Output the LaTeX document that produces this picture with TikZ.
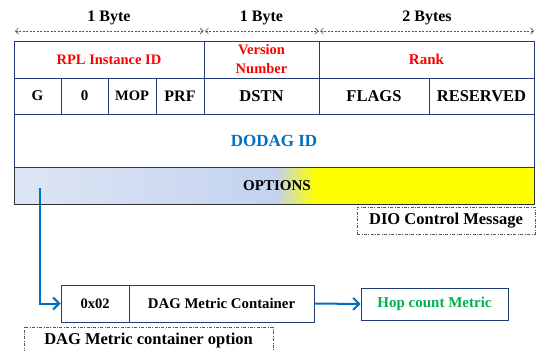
\documentclass[tikz,border=0pt]{standalone}
\usepackage{fontspec}
\setmainfont{Liberation Serif}
\usetikzlibrary{arrows.meta}
\definecolor{navy}{HTML}{1F3B73}
\definecolor{rplred}{HTML}{FF0000}
\definecolor{dodblue}{HTML}{0070C0}
\definecolor{hopgreen}{HTML}{00B050}
\definecolor{optA}{HTML}{DEE6F5}
\definecolor{optB}{HTML}{C3D2EE}
\definecolor{optY}{HTML}{FFFF00}
\definecolor{dashgray}{HTML}{555555}
\tikzset{
  cell/.style={draw=navy, line width=0.9pt, inner sep=0pt, align=center, font=\bfseries},
  fs/.style={font=\fontsize{#1}{#1}\selectfont\bfseries},
  lblbox/.style={draw=dashgray, line width=0.5pt, dash pattern=on 3pt off 1.5pt on 0.8pt off 1.5pt, inner sep=0pt},
  bytearrow/.style={draw=dashgray, line width=0.6pt, dash pattern=on 2pt off 1.5pt, {Straight Barb[length=3pt,width=6pt]}-{Straight Barb[length=3pt,width=6pt]}},
  bluearrow/.style={draw=dodblue, line width=2pt, -{Straight Barb[length=6pt,width=12pt]}}
}
\begin{document}
\begin{tikzpicture}[x=1pt,y=-1pt]
\useasboundingbox (0,0) rectangle (536,351);
\clip (0,0) rectangle (536,351);
\fill[white] (0,0) rectangle (536,351);
% byte arrows
\coordinate (a1) at (15,31); \coordinate (a2) at (203.5,31);
\coordinate (a3) at (205,31); \coordinate (a4) at (318.5,31);
\coordinate (a5) at (320,31); \coordinate (a6) at (534,31);
\draw[bytearrow] (a1) -- (a2);
\draw[bytearrow] (a3) -- (a4);
\draw[bytearrow] (a5) -- (a6);
\node[fs=16] (b1) at (109,18) {1 Byte};
\node[fs=16] (b2) at (261.5,18) {1 Byte};
\node[fs=16] (b3) at (427,18) {2 Bytes};
% options shading
\shade[left color=optA, right color=optB] (14,167) rectangle (277,204);
\shade[left color=optB, right color=optY] (276.5,167) rectangle (316,204);
\fill[optY] (315.5,167) rectangle (534,204);
\node[draw=black!80, line width=0.9pt, minimum width=520pt, minimum height=37pt, inner sep=0pt] (opt) at (274,185.5) {};
\node[fs=15] (optt) at (277,185.5) {OPTIONS};
% row 1
\node[cell, minimum width=190pt, minimum height=37pt, text=rplred, fs=14.5] (rpl) at (109,59.5) {RPL Instance ID};
\node[cell, minimum width=115pt, minimum height=37pt, text=rplred, font=\fontsize{14.5}{19}\selectfont\bfseries] (ver) at (261.5,59.5) {Version\\Number};
\node[cell, minimum width=215pt, minimum height=37pt, text=rplred, fs=15] (rank) at (426.5,59.5) {Rank};
% row 2
\node[cell, minimum width=47pt, minimum height=36pt, fs=15] (g) at (37.5,96) {G};
\node[cell, minimum width=47pt, minimum height=36pt, fs=15] (zero) at (84.5,96) {0};
\node[cell, minimum width=48pt, minimum height=36pt, fs=14.5] (mop) at (132,96) {MOP};
\node[cell, minimum width=48pt, minimum height=36pt, fs=16] (prf) at (180,96) {PRF};
\node[cell, minimum width=115pt, minimum height=36pt, fs=16.5] (dstn) at (261.5,96) {DSTN};
\node[cell, minimum width=110pt, minimum height=36pt, fs=16.5] (flags) at (374,96) {FLAGS};
\node[cell, minimum width=105pt, minimum height=36pt, fs=16.5] (res) at (481.5,96) {RESERVED};
% dodag
\node[cell, minimum width=520pt, minimum height=53pt, text=dodblue, fs=17] (dodag) at (274,140.5) {DODAG ID};
% DIO label
\node[lblbox, minimum width=178pt, minimum height=27pt, fs=16.5] (dio) at (446,220.5) {DIO Control Message};
% bottom
\node[cell, minimum width=68pt, minimum height=37pt, fs=14.5] (hex) at (95,303.5) {0x02};
\node[cell, minimum width=185pt, minimum height=37pt, fs=14.8] (dmc) at (221.5,303.5) {DAG Metric Container};
\node[cell, minimum width=147pt, minimum height=32pt, text=hopgreen, fs=15] (hop) at (434.5,304) {Hop count Metric};
\node[lblbox, minimum width=249pt, minimum height=30pt, anchor=north] (dmco) at (148.5,327) {};
\node[fs=16.5] (dmcot) at (148.5,341) {DAG Metric container option};
% connectors
\coordinate (s) at (40,188);
\draw[bluearrow] (s) -- (40,303.5) -- (hex.west);
\draw[bluearrow] (dmc.east) -- (hop.west);
\end{tikzpicture}
\end{document}
